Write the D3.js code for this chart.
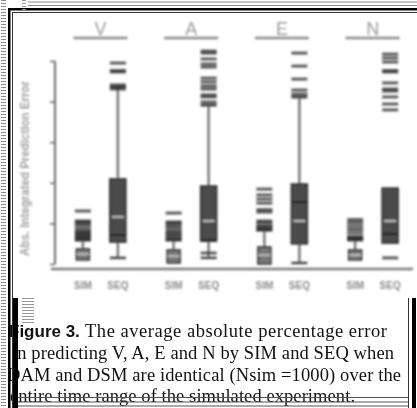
<!DOCTYPE html>
<html>
<head>
<meta charset="utf-8">
<script src="https://cdn.jsdelivr.net/npm/d3@7"></script>
<style>
  body { margin: 0; background: #fff; }
  svg { display: block; }
</style>
</head>
<body>
<div id="chart"></div>
<script>
const groups = ['V', 'A', 'E', 'N'];
const methods = ['SIM', 'SEQ'];
const yTicks = [0, 20, 40, 60, 80, 100];

// SIM boxes, one value per group
const simLow = [2.0, 0.5, 0.0, 2.0];
const simQ1 = [2.0, 0.5, 0.0, 2.0];
const simMedian = [4.9, 3.9, 4.4, 4.4];
const simQ3 = [7.4, 6.9, 8.4, 6.9];
const simHigh = [11.8, 11.8, 16.7, 12.3];
const simOutliers = [
  [12.3, 13.1, 13.8, 14.5, 15.3, 16.0, 17.2, 18.7, 20.0, 20.7, 21.2, 26.1],
  [12.3, 13.3, 14.3, 15.3, 16.3, 17.7, 19.0, 20.2, 20.7, 25.1],
  [17.0, 18.2, 18.7, 20.2, 21.2, 25.6, 26.8, 30.0, 32.0, 34.0, 36.9],
  [11.8, 12.8, 13.5, 15.3, 17.0, 18.7, 20.4, 21.9]
];

// SEQ boxes
const seqLow = [3.0, 3.0, 0.5, 10.3];
const seqQ1 = [10.8, 11.3, 9.9, 10.3];
const seqMedian = [23.2, 21.2, 21.2, 21.2];
const seqMean = [14.3, 11.6, 30.5, 14.8];
const seqQ3 = [41.9, 38.4, 39.4, 37.4];
const seqHigh = [87.2, 78.3, 82.3, 37.4];
const seqOutliers = [
  [86.2, 88.2, 94.6, 95.3, 99.0],
  [5.4, 79.8, 82.3, 83.3, 86.2, 87.7, 89.7, 91.6, 97.0, 98.5, 101.0, 103.9, 104.9],
  [83.7, 85.7, 91.1, 97.5, 103.9],
  [3.0, 75.9, 78.8, 82.3, 85.2, 86.2, 89.2, 94.6, 95.3, 99.5, 101.5, 103.4]
];

const captionLines = [
  'in predicting V, A, E and N by SIM and SEQ when',
  'DAM and DSM are identical (Nsim =1000) over the',
  'entire time range of the simulated experiment.'
];

const w = 417;
const h = 408;

const boxes = [];
groups.forEach((g, i) => {
  boxes.push({ group: g, method: 'SIM', low: simLow[i], q1: simQ1[i], median: simMedian[i], mean: null,
    q3: simQ3[i], high: simHigh[i], outliers: simOutliers[i] });
  boxes.push({ group: g, method: 'SEQ', low: seqLow[i], q1: seqQ1[i], median: seqMedian[i], mean: seqMean[i],
    q3: seqQ3[i], high: seqHigh[i], outliers: seqOutliers[i] });
});

const svg = d3.select('#chart').append('svg')
  .attr('width', w)
  .attr('height', h);

svg.append('rect').attr('width', w).attr('height', h).attr('fill', '#fff');

svg.append('defs').append('filter')
  .attr('id', 'soft')
  .attr('x', -0.1).attr('y', -0.1).attr('width', 1.2).attr('height', 1.2)
  .append('feGaussianBlur')
  .attr('stdDeviation', 0.9);

const xGroup = d3.scaleBand().domain(groups).range([55, 418]);
const xMethod = d3.scalePoint().domain(methods).range([-17.5, 17.5]);
const xPos = d => xGroup(d.group) + xGroup.bandwidth() / 2 + xMethod(d.method);

const yScale = d3.scaleLinear().domain([0, 100]).range([264, 61]);

const chart = svg.append('g').attr('filter', 'url(#soft)');

// group headers
const header = chart.selectAll('.header')
  .data(groups)
  .enter()
  .append('g')
  .attr('transform', g => `translate(${xGroup(g) + xGroup.bandwidth() / 2},0)`);

header.append('text')
  .attr('y', 35)
  .attr('text-anchor', 'middle')
  .attr('font-family', 'Liberation Sans, Arial, sans-serif')
  .attr('font-size', 18)
  .attr('fill', '#9a9a9a')
  .text(g => g);

header.append('line')
  .attr('x1', -27).attr('x2', 27)
  .attr('y1', 38).attr('y2', 38)
  .attr('stroke', '#8a8a8a')
  .attr('stroke-width', 2.5);

// axes
const yAxis = d3.axisLeft(yScale).tickValues(yTicks).tickSize(5).tickFormat('');
chart.append('g')
  .attr('class', 'y-axis')
  .attr('transform', 'translate(55,0)')
  .call(yAxis);

chart.selectAll('.y-axis .domain').remove();
chart.select('.y-axis').append('line')
  .attr('x1', 0).attr('x2', 0)
  .attr('y1', yScale(100)).attr('y2', yScale(0))
  .attr('stroke', '#6a6a6a').attr('stroke-width', 2);
chart.selectAll('.y-axis .tick line').attr('stroke', '#6a6a6a').attr('stroke-width', 1.6);

chart.append('line')
  .attr('x1', 51).attr('x2', 413)
  .attr('y1', 269).attr('y2', 269)
  .attr('stroke', '#7a7a7a')
  .attr('stroke-width', 2.5);

chart.append('text')
  .attr('transform', `translate(29, ${(yScale(0) + yScale(100)) / 2 + 6})rotate(-90)`)
  .attr('text-anchor', 'middle')
  .attr('font-family', 'Liberation Sans, Arial, sans-serif')
  .attr('font-size', 12)
  .attr('font-weight', 'bold')
  .attr('fill', '#a0a0a0')
  .attr('textLength', 175)
  .attr('lengthAdjust', 'spacingAndGlyphs')
  .text('Abs. Integrated Prediction Error');

// method labels
chart.selectAll('.mlabel')
  .data(boxes)
  .enter()
  .append('text')
  .attr('x', xPos)
  .attr('y', 289)
  .attr('text-anchor', 'middle')
  .attr('font-family', 'Liberation Sans, Arial, sans-serif')
  .attr('font-size', 10)
  .attr('font-weight', 'bold')
  .attr('fill', '#8a8a8a')
  .text(d => d.method);

// boxes
const box = chart.selectAll('.box')
  .data(boxes)
  .enter()
  .append('g')
  .attr('transform', d => `translate(${xPos(d)},0)`);

box.append('line')
  .attr('y1', d => yScale(d.low))
  .attr('y2', d => yScale(d.high))
  .attr('stroke', '#777')
  .attr('stroke-width', 2.5);

box.filter(d => d.high > d.q3).append('line')
  .attr('x1', -8).attr('x2', 8)
  .attr('y1', d => yScale(d.high)).attr('y2', d => yScale(d.high))
  .attr('stroke', '#444').attr('stroke-width', 3);

box.filter(d => d.low < d.q1).append('line')
  .attr('x1', -8).attr('x2', 8)
  .attr('y1', d => yScale(d.low)).attr('y2', d => yScale(d.low))
  .attr('stroke', '#444').attr('stroke-width', 2.5);

box.append('rect')
  .attr('x', d => d.method === 'SEQ' ? -8 : -6.5)
  .attr('width', d => d.method === 'SEQ' ? 16 : 13)
  .attr('y', d => yScale(d.q3))
  .attr('height', d => yScale(d.q1) - yScale(d.q3))
  .attr('fill', d => d.method === 'SEQ' ? '#4c4c4c' : '#777')
  .attr('stroke', '#2a2a2a')
  .attr('stroke-width', 1.5);

box.append('line')
  .attr('x1', -6).attr('x2', 6)
  .attr('y1', d => yScale(d.median)).attr('y2', d => yScale(d.median))
  .attr('stroke', '#bdbdbd').attr('stroke-width', 2);

box.filter(d => d.mean !== null).append('line')
  .attr('x1', -7).attr('x2', 7)
  .attr('y1', d => yScale(d.mean)).attr('y2', d => yScale(d.mean))
  .attr('stroke', '#1e1e1e').attr('stroke-width', 2);

box.selectAll('.out')
  .data(d => d.outliers)
  .enter()
  .append('rect')
  .attr('x', -8).attr('width', 16)
  .attr('y', v => yScale(v) - 1.5)
  .attr('height', 3)
  .attr('fill', '#2a2a2a')
  .attr('opacity', 0.75);

// caption
const cap = svg.append('g');
cap.append('text')
  .attr('x', 9).attr('y', 337)
  .attr('font-family', 'Liberation Sans, Arial, sans-serif')
  .attr('font-weight', 'bold')
  .attr('font-size', 17)
  .attr('fill', '#111')
  .text('Figure 3.');
cap.append('text')
  .attr('x', 85).attr('y', 337)
  .attr('font-family', 'Liberation Serif, Times New Roman, serif')
  .attr('font-size', 18.5)
  .attr('fill', '#111')
  .attr('textLength', 302)
  .attr('lengthAdjust', 'spacing')
  .text('The average absolute percentage error');

const lineX = [12, 7, 10];
const lineY = [359, 381, 402];
const lineLen = [382, 394, 345];
cap.selectAll('.cl')
  .data(captionLines)
  .enter()
  .append('text')
  .attr('x', (d, i) => lineX[i])
  .attr('y', (d, i) => lineY[i])
  .attr('font-family', 'Liberation Serif, Times New Roman, serif')
  .attr('font-size', 18.5)
  .attr('fill', '#111')
  .attr('textLength', (d, i) => lineLen[i])
  .attr('lengthAdjust', 'spacing')
  .text(d => d);

// scan frame and artefacts
const deco = svg.append('g');
deco.append('rect').attr('x', 8).attr('y', 8).attr('width', 409).attr('height', 2.5).attr('fill', '#000');
deco.append('rect').attr('x', 12).attr('y', 12).attr('width', 405).attr('height', 1).attr('fill', '#333');
deco.append('rect').attr('x', 8).attr('y', 8).attr('width', 2.5).attr('height', 400).attr('fill', '#000');
deco.append('rect').attr('x', 12).attr('y', 12).attr('width', 1).attr('height', 396).attr('fill', '#333');
deco.append('rect').attr('x', 13).attr('y', 298).attr('width', 5).attr('height', 110).attr('fill', '#000');
deco.append('rect').attr('x', 408).attr('y', 298).attr('width', 1).attr('height', 110).attr('fill', '#333');
deco.append('rect').attr('x', 412).attr('y', 298).attr('width', 4).attr('height', 110).attr('fill', '#000');
[1.5, 5].forEach(y => deco.append('rect').attr('x', 28).attr('y', y).attr('width', 389).attr('height', 1).attr('fill', '#888'));
[397, 401.5, 405.5].forEach(y => deco.append('rect').attr('x', 18).attr('y', y).attr('width', 390).attr('height', 1).attr('fill', '#555'));

deco.selectAll('.edge')
  .data(d3.range(0, h, 3))
  .enter()
  .append('rect')
  .attr('x', 1).attr('y', d => d).attr('width', 5).attr('height', 1)
  .attr('fill', '#8a8a8a');

deco.selectAll('.mark')
  .data(d3.range(298, 323, 3))
  .enter()
  .append('rect')
  .attr('x', 22).attr('y', d => d).attr('width', 12).attr('height', 1)
  .attr('fill', '#999');

deco.selectAll('.mark2')
  .data(d3.range(0, 12, 3))
  .enter()
  .append('rect')
  .attr('x', 22).attr('y', d => d).attr('width', 4).attr('height', 1)
  .attr('fill', '#999');
</script>
</body>
</html>
